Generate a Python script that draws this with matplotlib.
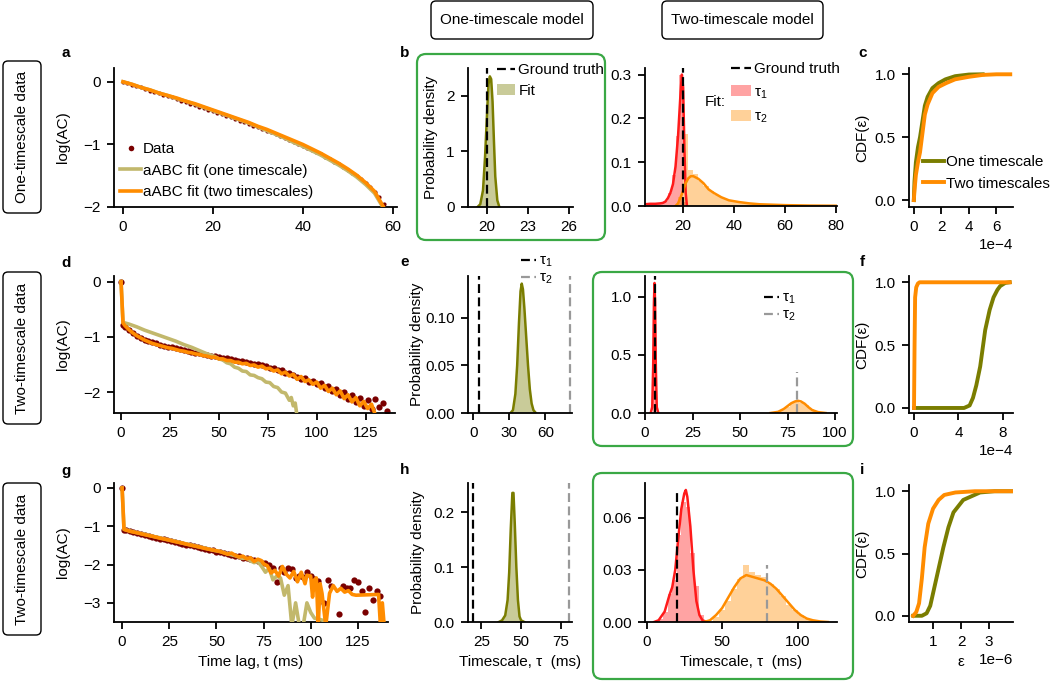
import matplotlib
matplotlib.use("Agg")
import numpy as np
import matplotlib.pyplot as plt
from matplotlib.patches import FancyBboxPatch, Patch
from matplotlib.lines import Line2D
from matplotlib.ticker import FormatStrFormatter

plt.rcParams['font.family'] = ['Liberation Sans', 'DejaVu Sans']
plt.rcParams['font.size'] = 11
plt.rcParams['mathtext.fontset'] = 'custom'
plt.rcParams['mathtext.rm'] = 'Liberation Sans'
plt.rcParams['mathtext.it'] = 'Liberation Sans'
plt.rcParams['axes.linewidth'] = 1.3
for ax_ in ('xtick', 'ytick'):
    plt.rcParams[ax_ + '.major.width'] = 1.3
    plt.rcParams[ax_ + '.major.size'] = 5
    plt.rcParams[ax_ + '.major.pad'] = 4.5

DATA_C = '#7a0000'
KHAKI = '#c2b86c'
ORANGE = '#ff8c00'
OLIVE = '#7a7d00'
RED = '#ff1a1a'
GRAY = '#999999'
GREEN = '#3aa845'

# ---------------- row 1: one-timescale data ----------------
a_t = [0, 1, 2, 3, 4, 5, 6, 7, 8, 9, 10, 11, 12, 13, 14, 15, 16, 17, 18, 19,
       20, 21, 22, 23, 24, 25, 26, 27, 28, 29, 30, 31, 32, 33, 34, 35, 36, 37, 38, 39,
       40, 41, 42, 43, 44, 45, 46, 47, 48, 49, 50, 51, 52, 53, 54, 55, 56, 57, 58, 59]
a_data = [0.00, -0.02, -0.05, -0.07, -0.09, -0.12, -0.14, -0.16, -0.18, -0.21,
          -0.23, -0.25, -0.27, -0.30, -0.32, -0.35, -0.37, -0.40, -0.42, -0.45,
          -0.47, -0.50, -0.52, -0.55, -0.57, -0.60, -0.62, -0.65, -0.67, -0.70,
          -0.72, -0.75, -0.78, -0.81, -0.84, -0.87, -0.90, -0.93, -0.96, -0.99,
          -1.02, -1.05, -1.09, -1.12, -1.16, -1.20, -1.24, -1.28, -1.32, -1.36,
          -1.41, -1.46, -1.51, -1.56, -1.62, -1.68, -1.76, -1.84, -1.95, -2.10]
a_fit_t = [0, 2, 4, 6, 8, 10, 12, 14, 16, 18, 20, 22, 24, 26, 28, 30, 32, 34, 36, 38,
           40, 42, 44, 46, 48, 50, 52, 54, 56, 58]
a_fit_one = [0.00, -0.04, -0.09, -0.13, -0.18, -0.22, -0.27, -0.31, -0.36, -0.41,
             -0.46, -0.51, -0.56, -0.61, -0.66, -0.72, -0.78, -0.84, -0.90, -0.97,
             -1.03, -1.10, -1.17, -1.25, -1.33, -1.42, -1.52, -1.64, -1.78, -2.02]
a_fit_two = [0.00, -0.04, -0.09, -0.13, -0.18, -0.22, -0.26, -0.31, -0.35, -0.40,
             -0.45, -0.50, -0.55, -0.60, -0.65, -0.71, -0.76, -0.82, -0.88, -0.94,
             -1.00, -1.07, -1.14, -1.22, -1.30, -1.39, -1.49, -1.61, -1.75, -2.00]

b_x = [19.3, 19.5, 19.7, 19.85, 20.0, 20.1, 20.2, 20.3, 20.4, 20.5, 20.6, 20.75, 20.9]
b_kde = [0.0, 0.05, 0.3, 0.9, 1.7, 2.2, 2.35, 2.3, 1.9, 1.2, 0.55, 0.12, 0.0]
b_truth = 20

b2_red_x = [5, 7, 9, 11, 12, 13, 14, 15, 16, 17, 18, 18.5, 19, 19.5, 20, 20.5, 21, 21.5]
b2_red_kde = [0.004, 0.005, 0.005, 0.006, 0.007, 0.01, 0.018, 0.03, 0.05, 0.09, 0.16,
              0.21, 0.26, 0.30, 0.27, 0.13, 0.03, 0.0]
b2_red_bin = [5.75, 7.25, 8.75, 10.25, 11.75, 13.25, 14.75, 16.25, 17.75, 19.25, 20.75]
b2_red_hist = [0.004, 0.005, 0.005, 0.005, 0.007, 0.012, 0.03, 0.07, 0.16, 0.30, 0.01]
b2_or_x = [17, 18, 19, 20, 21, 22, 23, 24, 26, 28, 30, 32, 35, 38, 42, 46, 50, 55, 60,
           65, 70, 75, 80]
b2_or_kde = [0.0, 0.006, 0.02, 0.035, 0.052, 0.063, 0.068, 0.068, 0.062, 0.052, 0.038,
             0.03, 0.02, 0.013, 0.009, 0.006, 0.004, 0.003, 0.002, 0.0015, 0.001, 0.0008, 0.0006]
b2_or_bin = [19, 21, 23, 25, 27, 29, 31, 33, 35, 37, 39, 41, 43, 45, 47, 49, 51, 53, 55,
             57, 59, 61, 63, 65, 67, 69, 71, 73, 75, 77, 79]
b2_or_hist = [0.02, 0.165, 0.083, 0.072, 0.058, 0.045, 0.034, 0.026, 0.02, 0.015, 0.012,
              0.009, 0.007, 0.006, 0.005, 0.004, 0.0035, 0.003, 0.0025, 0.002, 0.002,
              0.0015, 0.0015, 0.001, 0.001, 0.001, 0.0008, 0.0008, 0.0006, 0.0005, 0.0005]

# CDF of distances, eps in units of 1e-4
c_one_eps = [0, 0.05, 0.15, 0.3, 0.45, 0.8, 1.0, 1.35, 1.8, 2.3, 3.0, 4.0, 5.0]
c_one_cdf = [0, 0.15, 0.3, 0.42, 0.5, 0.75, 0.82, 0.89, 0.93, 0.96, 0.985, 0.998, 1.0]
c_two_eps = [0, 0.05, 0.15, 0.3, 0.45, 0.8, 1.0, 1.35, 1.8, 2.35, 3.0, 4.0, 5.0, 6.0, 7.0]
c_two_cdf = [0, 0.08, 0.2, 0.3, 0.38, 0.68, 0.76, 0.85, 0.9, 0.93, 0.96, 0.98, 0.995, 1.0, 1.0]

# ---------------- row 2: two-timescale data ----------------
d_t = [0, 1, 2, 4, 6, 8, 10, 12, 14, 16, 18, 20, 22, 24, 26, 28, 30, 32, 34, 36,
       38, 40, 42, 44, 46, 48, 50, 52, 54, 56, 58, 60, 62, 64, 66, 68, 70, 72, 74, 76,
       78, 80, 82, 84, 86, 88, 90, 92, 94, 96, 98, 100, 102, 104, 106, 108, 110, 112, 114, 116,
       118, 120, 122, 124, 126, 128, 130, 132, 134, 136]
d_data = [0.00, -0.78, -0.82, -0.88, -0.94, -0.98, -1.02, -1.05, -1.08, -1.10,
          -1.12, -1.14, -1.16, -1.18, -1.19, -1.21, -1.23, -1.24, -1.26, -1.27,
          -1.29, -1.30, -1.31, -1.33, -1.34, -1.35, -1.36, -1.38, -1.39, -1.40,
          -1.42, -1.43, -1.44, -1.46, -1.47, -1.49, -1.50, -1.52, -1.53, -1.56,
          -1.57, -1.60, -1.61, -1.65, -1.66, -1.70, -1.72, -1.76, -1.75, -1.82,
          -1.80, -1.86, -1.84, -1.93, -1.90, -1.98, -1.95, -2.05, -2.00, -2.12,
          -2.05, -2.18, -2.10, -2.25, -2.15, -2.30, -2.12, -2.28, -2.20, -2.35]
d_fit_two = [0.00, -0.75, -0.80, -0.87, -0.93, -0.98, -1.02, -1.06, -1.09, -1.12,
             -1.14, -1.16, -1.18, -1.20, -1.21, -1.23, -1.25, -1.26, -1.28, -1.29,
             -1.31, -1.32, -1.34, -1.35, -1.37, -1.37, -1.40, -1.40, -1.43, -1.43,
             -1.46, -1.46, -1.49, -1.48, -1.52, -1.51, -1.55, -1.53, -1.58, -1.57,
             -1.62, -1.60, -1.67, -1.64, -1.71, -1.68, -1.77, -1.72, -1.81, -1.78,
             -1.86, -1.82, -1.93, -1.88, -1.99, -1.93, -2.05, -1.98, -2.12, -2.05,
             -2.18, -2.10, -2.25, -2.17, -2.30, -2.22, -2.42, -2.50, -2.60, -2.70]
d_fit1_t = [0, 1, 4, 8, 12, 16, 20, 24, 28, 32, 36, 40, 44, 48, 50, 52, 54, 56, 58, 60,
            62, 64, 66, 68, 70, 72, 74, 76, 78, 80, 82, 84, 86, 87, 88, 89, 90]
d_fit_one = [0.00, -0.74, -0.77, -0.82, -0.88, -0.93, -0.98, -1.03, -1.08, -1.14,
             -1.19, -1.25, -1.31, -1.36, -1.40, -1.42, -1.47, -1.49, -1.55, -1.57,
             -1.62, -1.63, -1.69, -1.70, -1.74, -1.76, -1.82, -1.83, -1.90, -1.92,
             -2.00, -2.02, -2.15, -2.10, -2.25, -2.20, -2.45]
d_tau = [5, 80]

e_x = [31, 33, 35, 36.5, 38, 39.3, 40.3, 41.3, 42.5, 44, 45.5, 47, 48.5, 50, 52]
e_kde = [0.0, 0.003, 0.02, 0.05, 0.095, 0.128, 0.136, 0.13, 0.11, 0.08, 0.05, 0.025,
         0.01, 0.003, 0.0]

e2_red_x = [3.0, 3.8, 4.3, 4.7, 5.0, 5.3, 5.7, 6.2, 7.0]
e2_red_kde = [0.0, 0.05, 0.4, 0.95, 1.12, 0.95, 0.4, 0.05, 0.0]
e2_red_bin = [4.25, 4.75, 5.25, 5.75]
e2_red_hist = [0.4, 1.0, 1.0, 0.4]
e2_or_x = [66, 70, 73, 75, 77, 79, 80.5, 82, 84, 86, 88, 91, 95]
e2_or_kde = [0.0, 0.01, 0.035, 0.06, 0.085, 0.1, 0.105, 0.1, 0.08, 0.05, 0.025, 0.008, 0.0]
e2_or_bin = [70, 72.5, 75, 77.5, 80, 82.5, 85, 87.5, 90, 92.5]
e2_or_hist = [0.01, 0.03, 0.055, 0.085, 0.1, 0.09, 0.065, 0.035, 0.015, 0.005]
e2_truth_top = [1.18, 0.35]

f_one_eps = [0, 4.5, 5.0, 5.3, 5.6, 5.95, 6.4, 6.8, 7.15, 7.5, 7.75, 8.2, 8.6]
f_one_cdf = [0, 0, 0.02, 0.08, 0.18, 0.33, 0.62, 0.78, 0.88, 0.94, 0.97, 0.995, 1.0]
f_two_eps = [0, 0.05, 0.1, 0.2, 0.35, 0.5, 1.0, 8.6]
f_two_cdf = [0, 0.5, 0.88, 0.96, 0.99, 1.0, 1.0, 1.0]

# ---------------- row 3: two-timescale data ----------------
g_t = [0, 1, 2, 4, 6, 8, 10, 12, 14, 16, 18, 20, 22, 24, 26, 28, 30, 32, 34, 36,
       38, 40, 42, 44, 46, 48, 50, 52, 54, 56, 58, 60, 62, 64, 66, 68, 70, 72, 74, 76,
       78, 80, 82, 84, 86, 88, 90, 92, 94, 96, 98, 100, 102, 104, 107, 109, 111, 115, 117, 119,
       121, 123, 125, 127, 129, 131, 133, 135, 137]
g_data = [0.00, -1.10, -1.11, -1.13, -1.16, -1.18, -1.20, -1.23, -1.25, -1.27,
          -1.30, -1.32, -1.34, -1.37, -1.38, -1.41, -1.43, -1.45, -1.48, -1.50,
          -1.52, -1.55, -1.56, -1.59, -1.61, -1.63, -1.66, -1.67, -1.70, -1.72,
          -1.74, -1.77, -1.78, -1.82, -1.83, -1.86, -1.89, -1.90, -1.95, -1.97,
          -2.00, -2.08, -2.45, -2.10, -2.20, -2.09, -2.12, -2.35, -2.30, -2.32,
          -2.20, -2.30, -2.38, -2.42, -3.00, -2.40, -2.55, -3.30, -2.57, -2.60,
          -2.62, -2.40, -2.45, -2.70, -3.23, -2.60, -2.92, -2.70, -2.83]
g_fit2_t = [0, 1, 4, 8, 12, 16, 20, 24, 28, 32, 36, 40, 44, 48, 52, 56, 58, 60, 62, 64,
            66, 68, 70, 72, 74, 75, 77, 79, 81, 83, 85, 87, 89, 91, 93, 95, 97, 98, 100, 101,
            102, 103, 104, 105, 106, 108, 110, 112, 114, 116, 118, 120, 122, 124, 136, 137, 138, 139]
g_fit_two = [0.00, -1.08, -1.13, -1.17, -1.22, -1.26, -1.31, -1.35, -1.40, -1.44,
             -1.49, -1.53, -1.58, -1.62, -1.66, -1.73, -1.70, -1.76, -1.80, -1.78,
             -1.85, -1.82, -1.92, -1.86, -1.90, -1.98, -2.03, -2.22, -2.15, -2.30,
             -2.05, -2.25, -2.35, -2.18, -2.45, -2.20, -2.50, -2.28, -2.30, -2.85,
             -2.40, -2.35, -3.60, -2.50, -2.75, -3.60, -2.75, -2.55, -2.70, -2.62,
             -2.72, -2.68, -2.78, -2.80, -2.78, -3.60, -3.00, -3.60]
g_fit1_t = [0, 1, 4, 8, 12, 16, 20, 24, 28, 32, 36, 40, 44, 48, 52, 56, 60, 64, 66, 68,
            70, 72, 74, 76, 78, 80, 82, 84, 86, 88, 90, 92, 94, 96, 98, 100, 102, 104, 106, 108]
g_fit_one = [0.00, -1.08, -1.12, -1.17, -1.21, -1.26, -1.30, -1.35, -1.39, -1.44,
             -1.48, -1.53, -1.57, -1.62, -1.66, -1.72, -1.77, -1.84, -1.83, -1.90,
             -1.95, -1.92, -2.05, -2.20, -2.10, -2.40, -2.30, -2.35, -2.80, -2.55,
             -3.60, -3.00, -3.60, -3.60, -3.00, -3.25, -3.40, -3.42, -3.45, -3.47]
g_tau = [20, 80]

h_x = [36, 38, 40, 41.5, 42.5, 43.5, 44.5, 45.2, 46, 47, 48, 49, 50, 52]
h_kde = [0.0, 0.003, 0.012, 0.04, 0.09, 0.17, 0.235, 0.235, 0.18, 0.10, 0.04, 0.01, 0.003, 0.0]

h2_red_x = [5, 8, 12, 15, 17, 19, 21, 23, 25, 26, 27, 29, 31, 33, 35, 37, 40]
h2_red_kde = [0.0, 0.001, 0.006, 0.015, 0.02, 0.03, 0.048, 0.065, 0.074, 0.076, 0.072,
              0.055, 0.03, 0.012, 0.004, 0.001, 0.0]
h2_red_bin = [9.5, 12.5, 15.5, 18.5, 21.5, 24.5, 27.5, 30.5, 33.5, 36.5]
h2_red_hist = [0.002, 0.006, 0.016, 0.024, 0.05, 0.069, 0.066, 0.04, 0.021, 0.004]
h2_or_x = [38, 42, 46, 50, 54, 58, 62, 66, 70, 74, 78, 82, 86, 90, 94, 98, 102, 106,
           110, 115, 120]
h2_or_kde = [0.0, 0.001, 0.004, 0.008, 0.014, 0.02, 0.025, 0.027, 0.026, 0.025, 0.024,
             0.022, 0.019, 0.015, 0.011, 0.007, 0.004, 0.002, 0.001, 0.0003, 0.0]
h2_or_bin = [46, 50, 54, 58, 62, 66, 70, 74, 78, 82, 86, 90, 94, 98, 102, 106, 110]
h2_or_hist = [0.003, 0.007, 0.012, 0.019, 0.025, 0.033, 0.029, 0.027, 0.026, 0.022,
              0.019, 0.015, 0.01, 0.007, 0.004, 0.002, 0.001]
h2_truth_top = [0.075, 0.033]

i_one_eps = [0.29, 0.6, 0.77, 0.9, 1.0, 1.2, 1.37, 1.55, 1.73, 2.08, 2.68, 3.2, 3.8]
i_one_cdf = [0, 0.0, 0.02, 0.08, 0.18, 0.38, 0.55, 0.71, 0.83, 0.93, 0.99, 1.0, 1.0]
i_two_eps = [0.29, 0.4, 0.5, 0.6, 0.7, 0.83, 1.0, 1.2, 1.4, 1.8, 2.5, 3.8]
i_two_cdf = [0, 0.03, 0.1, 0.3, 0.55, 0.74, 0.86, 0.93, 0.97, 0.99, 1.0, 1.0]

# ---------------- layout helpers ----------------
W, H = 1050, 681
fig = plt.figure(figsize=(W / 100, H / 100), dpi=100)

bg = fig.add_axes([0, 0, 1, 1])
bg.set_xlim(0, W)
bg.set_ylim(H, 0)
bg.axis('off')


def panel(l, t, r, b):
    ax = fig.add_axes([l / W, 1 - b / H, (r - l) / W, (b - t) / H])
    ax.set_facecolor('none')
    ax.spines['top'].set_visible(False)
    ax.spines['right'].set_visible(False)
    return ax


def fpos(x, y):
    return (x / W, 1 - y / H)


def box(x0, y0, x1, y1, ec='black', lw=1.0, r=5):
    bg.add_patch(FancyBboxPatch((x0 + r, y0 + r), x1 - x0 - 2 * r, y1 - y0 - 2 * r,
                                boxstyle='round,pad=%d' % r, fc='none', ec=ec, lw=lw))


def legend(ax, handles, labels, x, y, hl=1.4, hp=0.2, ls=0.45):
    ax.legend(handles, labels, loc='upper left', bbox_to_anchor=fpos(x, y),
              bbox_transform=fig.transFigure, frameon=False, borderpad=0,
              borderaxespad=0, handlelength=hl, handletextpad=hp, labelspacing=ls)


# header and row boxes, green frames
box(431, 1, 593, 39)
box(662, 1, 823, 39)
bg.text(512, 20, 'One-timescale model', ha='center', va='center')
bg.text(742, 20, 'Two-timescale model', ha='center', va='center')
for (y0, y1, lab) in [(61, 213, 'One-timescale data'), (272, 424, 'Two-timescale data'),
                      (483, 635, 'Two-timescale data')]:
    box(3, y0, 41, y1)
    bg.text(22, (y0 + y1) / 2, lab, rotation=90, ha='center', va='center')
box(417, 54, 605, 240, ec=GREEN, lw=1.6, r=9)
box(593, 272, 853, 446, ec=GREEN, lw=1.6, r=9)
box(593, 473, 853, 679, ec=GREEN, lw=1.6, r=9)

for (lx, ly, s) in [(66, 53, 'a'), (405, 53, 'b'), (863, 53, 'c'),
                    (66, 263, 'd'), (405, 262, 'e'), (862, 262, 'f'),
                    (66, 471, 'g'), (405, 470, 'h'), (862, 470, 'i')]:
    bg.text(lx, ly, s, fontweight='bold', ha='center', va='center')

dash = dict(ls='--', dashes=(4, 2), lw=1.6)
alpha_fill = 0.4


def truth_line(ax, x, top, color):
    ax.plot([x, x], [0, top], color=color, **dash)


def ac_panel(ax, data_t, data, f1_t, f1, f2_t, f2, ms):
    ax.plot(data_t, data, 'o', color=DATA_C, ms=ms, mew=0, zorder=2)
    ax.plot(f1_t, f1, color=KHAKI, lw=2.6, zorder=3)
    ax.plot(f2_t, f2, color=ORANGE, lw=2.6, zorder=4)
    ax.set_ylabel('log(AC)', labelpad=10)


def cdf_panel(ax, one_e, one_c, two_e, two_c, scale):
    ax.plot(np.array(one_e) * scale, one_c, color=OLIVE, lw=2.8)
    ax.plot(np.array(two_e) * scale, two_c, color=ORANGE, lw=2.8)
    ax.set_ylabel('CDF(ε)', labelpad=4)
    ax.set_yticks([0, 0.5, 1.0])
    ax.yaxis.set_major_formatter(FormatStrFormatter('%.1f'))
    ax.ticklabel_format(axis='x', style='sci', scilimits=(0, 0))


# ---- a ----
ax = panel(114, 68, 397, 207)
ac_panel(ax, a_t, a_data, a_fit_t, a_fit_one, a_fit_t, a_fit_two, 3)
ax.set_xlim(-2, 61)
ax.set_ylim(-2, 0.22)
ax.set_xticks([0, 20, 40, 60])
ax.set_yticks([-2, -1, 0])
legend(ax, [Line2D([], [], ls='', marker='o', ms=4, mew=0, color=DATA_C),
            Line2D([], [], color=KHAKI, lw=2.6), Line2D([], [], color=ORANGE, lw=2.6)],
       ['Data', 'aABC fit (one timescale)', 'aABC fit (two timescales)'], 120, 142, hp=0.1,
       ls=0.5)

# ---- b (one-timescale model) ----
ax = panel(468, 68, 573, 207)
ax.fill_between(b_x, b_kde, color=OLIVE, alpha=alpha_fill, lw=0)
ax.plot(b_x, b_kde, color=OLIVE, lw=1.8)
ax.axvline(b_truth, color='black', **dash)
ax.set_xlim(18.6, 26.3)
ax.set_ylim(0, 2.5)
ax.set_xticks([20, 23, 26])
ax.set_yticks([0, 1, 2])
ax.set_ylabel('Probability density', labelpad=6)
legend(ax, [Line2D([], [], color='black', **dash), Patch(color=OLIVE, alpha=alpha_fill, lw=0)],
       ['Ground truth', 'Fit'], 497, 63, hl=1.2)

# ---- b (two-timescale model) ----
ax = panel(645, 68, 837, 206)
ax.bar(b2_red_bin, b2_red_hist, width=1.5, color=RED, alpha=alpha_fill, lw=0)
ax.bar(b2_or_bin, b2_or_hist, width=2, color=ORANGE, alpha=alpha_fill, lw=0)
ax.plot(b2_red_x, b2_red_kde, color=RED, lw=1.8)
ax.plot(b2_or_x, b2_or_kde, color=ORANGE, lw=1.8)
ax.axvline(b_truth, color='black', **dash)
ax.set_xlim(5, 80.5)
ax.set_ylim(0, 0.315)
ax.set_xticks([20, 40, 60, 80])
ax.set_yticks([0, 0.1, 0.2, 0.3])
ax.yaxis.set_major_formatter(FormatStrFormatter('%.1f'))
legend(ax, [Line2D([], [], color='black', **dash), Patch(color=RED, alpha=alpha_fill, lw=0),
            Patch(color=ORANGE, alpha=alpha_fill, lw=0)],
       ['Ground truth', 'τ$_1$', 'τ$_2$'], 731, 62, hl=1.3, ls=0.6)
bg.text(705, 102, 'Fit:', ha='left', va='center')

# ---- c ----
ax = panel(909, 68, 1013, 207)
cdf_panel(ax, c_one_eps, c_one_cdf, c_two_eps, c_two_cdf, 1e-4)
ax.set_xlim(-0.35e-4, 7.2e-4)
ax.set_ylim(-0.055, 1.05)
ax.set_xticks([0, 2e-4, 4e-4, 6e-4])
legend(ax, [Line2D([], [], color=OLIVE, lw=2.8), Line2D([], [], color=ORANGE, lw=2.8)],
       ['One timescale', 'Two timescales'], 923, 155, hp=0.1, ls=0.5)

# ---- d ----
ax = panel(114, 276, 395, 413)
ac_panel(ax, d_t, d_data, d_fit1_t, d_fit_one, d_t, d_fit_two, 4.5)
ax.set_xlim(-3.6, 140)
ax.set_ylim(-2.38, 0.1)
ax.set_xticks([0, 25, 50, 75, 100, 125])
ax.set_yticks([-2, -1, 0])

# ---- e (one-timescale model) ----
ax = panel(468, 276, 572, 413)
ax.fill_between(e_x, e_kde, color=OLIVE, alpha=alpha_fill, lw=0)
ax.plot(e_x, e_kde, color=OLIVE, lw=1.8)
ax.axvline(d_tau[0], color='black', **dash)
ax.axvline(d_tau[1], color=GRAY, **dash)
ax.set_xlim(-4.3, 82)
ax.set_ylim(0, 0.144)
ax.set_xticks([0, 30, 60])
ax.set_yticks([0, 0.05, 0.10])
ax.yaxis.set_major_formatter(FormatStrFormatter('%.2f'))
ax.set_ylabel('Probability density', labelpad=1)
legend(ax, [Line2D([], [], color='black', **dash), Line2D([], [], color=GRAY, **dash)],
       ['τ$_1$', 'τ$_2$'], 521, 254, hl=1.0, ls=0.1)

# ---- e (two-timescale model) ----
ax = panel(645, 276, 837, 413)
ax.bar(e2_red_bin, e2_red_hist, width=0.5, color=RED, alpha=alpha_fill, lw=0)
ax.bar(e2_or_bin, e2_or_hist, width=2.5, color=ORANGE, alpha=alpha_fill, lw=0)
ax.plot(e2_red_x, e2_red_kde, color=RED, lw=1.8)
ax.plot(e2_or_x, e2_or_kde, color=ORANGE, lw=1.8)
truth_line(ax, d_tau[0], e2_truth_top[0], 'black')
truth_line(ax, d_tau[1], e2_truth_top[1], GRAY)
ax.set_xlim(0, 101)
ax.set_ylim(0, 1.18)
ax.set_xticks([0, 25, 50, 75, 100])
ax.set_yticks([0, 0.5, 1.0])
ax.yaxis.set_major_formatter(FormatStrFormatter('%.1f'))
legend(ax, [Line2D([], [], color='black', **dash), Line2D([], [], color=GRAY, **dash)],
       ['τ$_1$', 'τ$_2$'], 764, 291, hl=1.0, ls=0.1)

# ---- f ----
ax = panel(909, 276, 1013, 413)
cdf_panel(ax, f_one_eps, f_one_cdf, f_two_eps, f_two_cdf, 1e-4)
ax.set_xlim(-0.45e-4, 8.9e-4)
ax.set_ylim(-0.04, 1.05)
ax.set_xticks([0, 4e-4, 8e-4])

# ---- g ----
ax = panel(114, 483, 388, 622)
ac_panel(ax, g_t, g_data, g_fit1_t, g_fit_one, g_fit2_t, g_fit_two, 4.5)
ax.set_xlim(-4.3, 141)
ax.set_ylim(-3.5, 0.13)
ax.set_xticks([0, 25, 50, 75, 100, 125])
ax.set_yticks([-3, -2, -1, 0])
ax.set_xlabel('Time lag, t (ms)', labelpad=4)

# ---- h (one-timescale model) ----
ax = panel(468, 483, 572, 622)
ax.fill_between(h_x, h_kde, color=OLIVE, alpha=alpha_fill, lw=0)
ax.plot(h_x, h_kde, color=OLIVE, lw=1.8)
ax.axvline(g_tau[0], color='black', **dash)
ax.axvline(g_tau[1], color=GRAY, **dash)
ax.set_xlim(16.6, 82)
ax.set_ylim(0, 0.253)
ax.set_xticks([25, 50, 75])
ax.set_yticks([0, 0.1, 0.2])
ax.yaxis.set_major_formatter(FormatStrFormatter('%.1f'))
ax.set_ylabel('Probability density', labelpad=6)
ax.set_xlabel('Timescale, τ  (ms)', labelpad=4)

# ---- h (two-timescale model) ----
ax = panel(645, 483, 837, 622)
ax.bar(h2_red_bin, h2_red_hist, width=3, color=RED, alpha=alpha_fill, lw=0)
ax.bar(h2_or_bin, h2_or_hist, width=4, color=ORANGE, alpha=alpha_fill, lw=0)
ax.plot(h2_red_x, h2_red_kde, color=RED, lw=1.8)
ax.plot(h2_or_x, h2_or_kde, color=ORANGE, lw=1.8)
truth_line(ax, g_tau[0], h2_truth_top[0], 'black')
truth_line(ax, g_tau[1], h2_truth_top[1], GRAY)
ax.set_xlim(-1, 126)
ax.set_ylim(0, 0.080)
ax.set_xticks([0, 50, 100])
ax.set_yticks([0, 0.03, 0.06])
ax.yaxis.set_major_formatter(FormatStrFormatter('%.2f'))
ax.set_xlabel('Timescale, τ  (ms)', labelpad=4)

# ---- i ----
ax = panel(909, 485, 1013, 622)
cdf_panel(ax, i_one_eps, i_one_cdf, i_two_eps, i_two_cdf, 1e-6)
ax.set_xlim(0.14e-6, 3.86e-6)
ax.set_ylim(-0.05, 1.05)
ax.set_xticks([1e-6, 2e-6, 3e-6])
ax.set_xlabel('ε', labelpad=4)

fig.savefig('out.png', dpi=100, facecolor='white')
